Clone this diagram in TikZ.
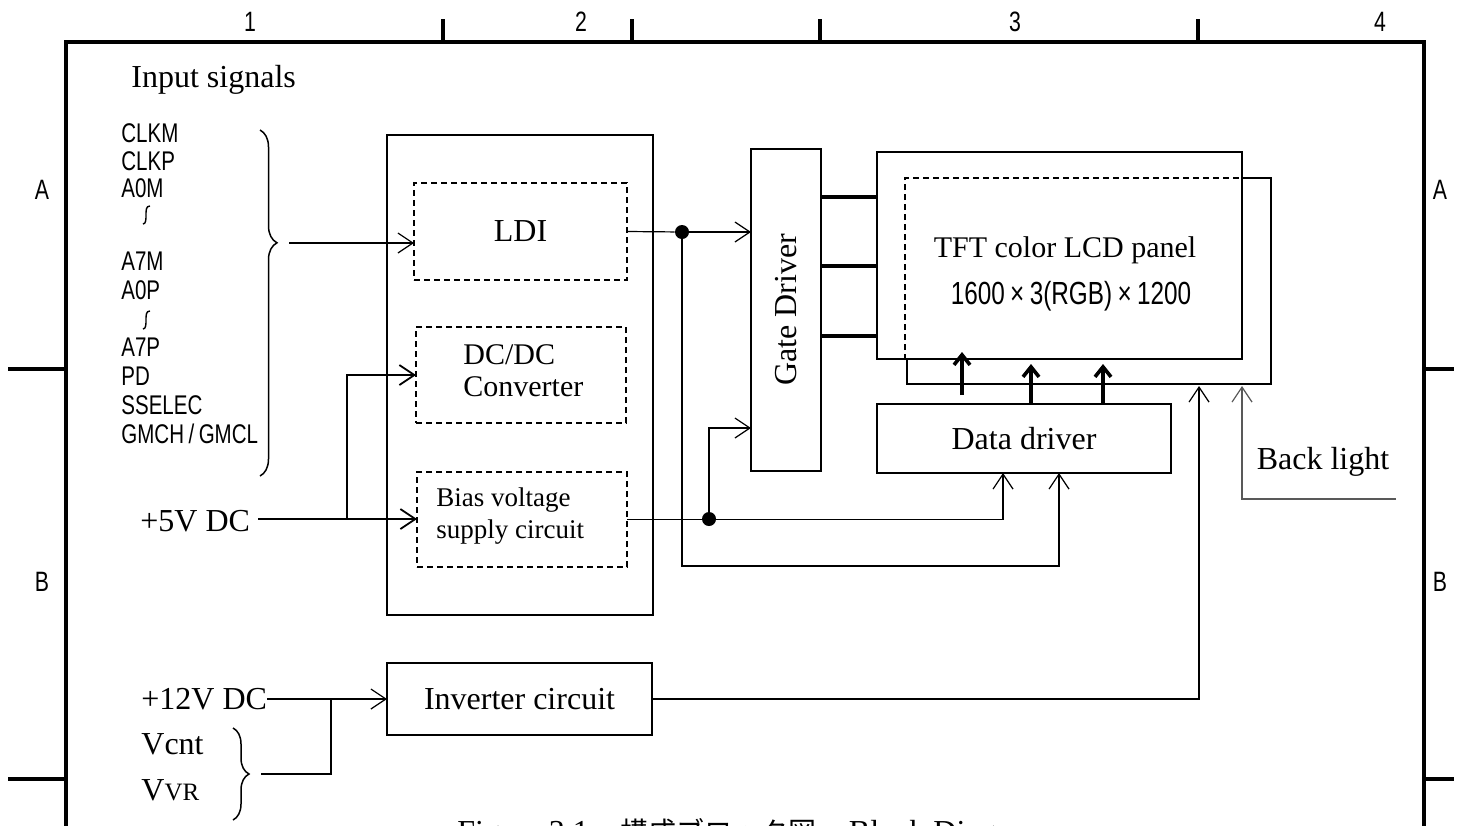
\documentclass[tikz,border=0pt]{standalone}
\usepackage{fontspec}
\setmainfont{Liberation Serif}
\newfontfamily\narrowsans[FakeStretch=0.76]{Liberation Sans}
\newfontfamily\cjk{Noto Sans CJK JP}
\usetikzlibrary{arrows.meta,fit,decorations.pathreplacing}
\begin{document}
\begin{tikzpicture}[x=0.5pt,y=-0.5pt,
  frame/.style={line width=2.4pt},
  box/.style={draw,line width=1.2pt,inner sep=0pt,outer sep=0pt},
  dbox/.style={draw,line width=0.6pt,dash pattern=on 3pt off 2pt,inner sep=0pt,outer sep=0pt},
  conn/.style={line width=0.6pt},
  arr/.style={conn,-{Straight Barb[length=7.5pt,width=10pt]}},
  harr/.style={line width=0.9pt,-{Straight Barb[length=7.5pt,width=10pt]}},
  garr/.style={line width=0.6pt,draw=black!65,-{Straight Barb[length=7.5pt,width=10pt]}},
  tarr/.style={line width=1.8pt,-{Straight Barb[length=5pt,width=8pt]}},
  gline/.style={line width=2.4pt},
  dot/.style={circle,fill,inner sep=0pt,minimum size=7pt},
  lab/.style={inner sep=0pt,font=\fontsize{16}{16}\selectfont},
  slab/.style={inner sep=0pt,font=\fontsize{13.5}{16}\selectfont},
  sig/.style={inner sep=0pt,anchor=west,font=\narrowsans\fontsize{13.5}{14}\selectfont},
  wave/.style={line width=0.7pt},
  brd/.style={inner sep=0pt,font=\narrowsans\fontsize{14}{15}\selectfont},
  brace/.style={line width=0.75pt,decorate}]
\useasboundingbox (0,0) rectangle (1466,825);
% frame
\draw[frame,line join=miter] (66,830) -- (66,42) -- (1424,42) -- (1424,830);
\foreach \x/\n in {443/t1,632/t2,820/t3,1198/t4}
  \draw[frame] (\x,42) -- (\x,19) coordinate (\n);
\draw[frame] (8,369) -- (66,369);
\draw[frame] (8,779) -- (66,779);
\draw[frame] (1424,369) -- (1454,369);
\draw[frame] (1424,779) -- (1454,779);
\node[brd] (c1) at (250,22) {1};
\node[brd] (c2) at (581,22) {2};
\node[brd] (c3) at (1015,22) {3};
\node[brd] (c4) at (1380,22) {4};
\node[brd] (rA1) at (42,190) {A};
\node[brd] (rB1) at (42,582) {B};
\node[brd] (rA2) at (1440,190) {A};
\node[brd] (rB2) at (1440,582) {B};
% input signals
\node[lab,anchor=west] (insig) at (131,80) {Input signals};
\node[sig] (s1) at (121,133) {CLKM};
\node[sig] (s2) at (121,161) {CLKP};
\node[sig] (s3) at (121,188) {A0M};
\coordinate (w1) at (146,215);
\draw[wave] (143,224) .. controls (146,224) and (146,219) .. (w1) .. controls (146,210) and (146,206) .. (150,206);
\node[sig] (s4) at (121,261) {A7M};
\node[sig] (s5) at (121,290) {A0P};
\coordinate (w2) at (146,320);
\draw[wave] (143,329) .. controls (146,329) and (146,324) .. (w2) .. controls (146,315) and (146,311) .. (150,311);
\node[sig] (s6) at (121,347) {A7P};
\node[sig] (s7) at (121,376) {PD};
\node[sig] (s8) at (121,405) {SSELEC};
\node[sig] (s9) at (121,434) {GMCH\,/\,GMCL};
\draw[brace,decoration={brace,amplitude=8.5pt,aspect=0.326}] (260,130) -- (260,476);
\coordinate (brtip) at (289,243);
% main block
\node[box,fit={(387,135) (653,615)}] (mainblk) {};
\node[dbox,fit={(414,183) (627,280)}] (ldi) {};
\node[lab] at (ldi) {LDI};
\node[dbox,fit={(416,327) (626,423)}] (dcdc) {};
\node[anchor=west,align=left,inner sep=0pt,font=\fontsize{15}{16}\selectfont] (dcdct) at (463,371) {DC/DC\\Converter};
\node[dbox,fit={(417,472) (627,567)}] (bias) {};
\node[slab,anchor=west,align=left] (biast) at (436,516) {Bias voltage\\supply circuit};
\draw[arr] (brtip) -- (ldi.west |- brtip);
% +5V
\node[lab,anchor=west] (v5) at (140,521) {+5V DC};
\coordinate (v5s) at (258,519);
\coordinate (br5) at (347,519);
\draw[harr] (v5s) -- (bias.west |- v5s);
\draw[harr] (br5) |- (dcdc.west);
% gate driver
\node[box,fit={(751,149) (821,471)}] (gate) {};
\node[lab,rotate=90] at (gate) {Gate Driver};
% panel and backlight
\draw[line width=0.6pt,dash pattern=on 3pt off 2pt] (905,360) -- (905,178) -- (1242,178);
\draw[line width=1.2pt] (1242,178) -- (1271,178) -- (1271,384) -- (907,384) -- (907,360);
\node[box,fit={(877,152) (1242,359)}] (panel) {};
\node[inner sep=0pt,font=\fontsize{15}{16}\selectfont] (pt1) at (1065,250) {TFT color LCD panel};
\node[inner sep=0pt,font=\narrowsans\fontsize{16}{16}\selectfont] (pt2) at (1071,296) {1600\,×\,3(RGB)\,×\,1200};
\foreach \y/\n in {197/g1,266/g2,336/g3}
  \draw[gline] (gate.east |- 0,\y) -- (panel.west |- 0,\y);
% data driver
\node[box,fit={(877,404) (1171,473)}] (data) {};
\node[lab] at (data) {Data driver};
\coordinate (xT1) at (962,395);
\coordinate (xT2) at (1031,0);
\coordinate (xT3) at (1103,0);
\draw[tarr] (xT1) -- (962,352);
\draw[tarr] (data.north -| xT2) -- (1031,364);
\draw[tarr] (data.north -| xT3) -- (1103,364);
% connections from LDI and bias
\node[dot] (j1) at (682,232) {};
\node[dot] (j2) at (709,519) {};
\coordinate (xA) at (1003,0);
\coordinate (xB) at (1059,0);
\coordinate (yLow) at (0,566);
\coordinate (yG) at (0,428);
\draw[conn] (ldi.east) -- (j1);
\draw[arr] (j1) -- (gate.west |- j1);
\draw[arr] (j1) -- (j1 |- yLow) -| (data.south -| xB);
\draw[arr] (bias.east) -| (data.south -| xA);
\draw[arr] (j2) |- (gate.west |- yG);
% inverter
\node[box,fit={(387,663) (652,735)}] (inv) {};
\node[lab] at (inv) {Inverter circuit};
\node[lab,anchor=west] (v12) at (141,699) {+12V DC};
\draw[arr] (v12.east) -- (inv.west |- v12.east);
\node[lab,anchor=west] (vcnt) at (141,744) {Vcnt};
\node[lab,anchor=west] (vvr) at (141,790) {V{\fontsize{12.5}{14}\selectfont VR}};
\draw[brace,decoration={brace,amplitude=8pt,aspect=0.5}] (233,728) -- (233,820);
\coordinate (br2tip) at (261,774);
\coordinate (jB) at (331,699);
\draw[conn] (br2tip) -| (jB);
\coordinate (blA) at (1199,386);
\draw[arr] (inv.east) -| (blA);
% back light
\node[lab] (blt) at (1323,462) {Back light};
\coordinate (blB) at (1242,386);
\coordinate (blS) at (1396,499);
\draw[garr] (blS) -| (blB);
% caption (cut by page edge)
\node[anchor=base west,inner sep=0pt,font=\fontsize{16}{18}\selectfont] (cap) at (457,842)
  {Figure 3.1\quad{\cjk\fontsize{14}{16}\selectfont 構成ブロック図}\quad Block Diagram};
\end{tikzpicture}
\end{document}
